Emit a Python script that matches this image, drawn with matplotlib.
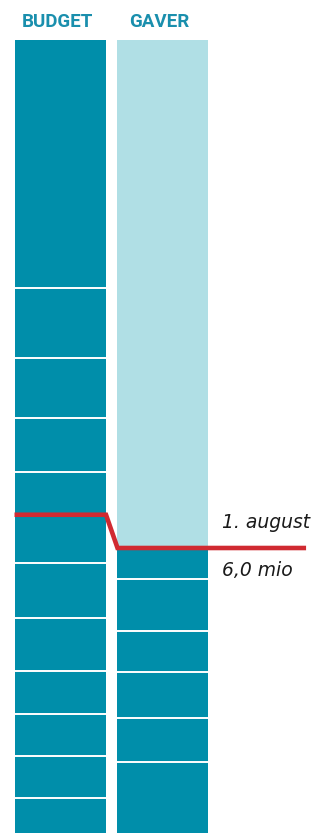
import numpy as np
import matplotlib
matplotlib.use("Agg")
import matplotlib.pyplot as plt

# Data (mio kr), segments stacked from the bottom up
categories = ["BUDGET", "GAVER"]
budget_segments = [0.73, 0.89, 0.88, 0.91, 1.11, 1.17, 1.92, 1.13, 1.25, 1.49, 5.21]
gaver_segments = [1.50, 0.93, 0.96, 0.87, 1.09, 0.65]
budget_1_august = 6.7
marker_label = "1. august"

# Colours
dark = "#008EAA"
light = "#B0DFE5"
red = "#D02A31"

budget_total = sum(budget_segments)
gaver_total = sum(gaver_segments)

fig = plt.figure(figsize=(3.11, 8.33), dpi=100)
ax = fig.add_axes([0, 0, 1, 1])
ax.axis("off")

x = np.arange(len(categories))
w = 0.897

def draw_stack(xpos, segments):
    bottoms = np.concatenate(([0], np.cumsum(segments)[:-1]))
    ax.bar([xpos] * len(segments), segments, bottom=bottoms, width=w,
           color=dark, linewidth=0, zorder=2)
    # white separators between segments
    for b in np.cumsum(segments)[:-1]:
        ax.plot([xpos - w / 2, xpos + w / 2], [b, b], color="white",
                lw=1.4, solid_capstyle="butt", zorder=3)

draw_stack(x[0], budget_segments)
draw_stack(x[1], gaver_segments)

# remaining part of the budget, not yet collected
ax.bar(x[1], budget_total - gaver_total, bottom=gaver_total, width=w,
       color=light, linewidth=0, zorder=2)

# red "1. august" line
line_end = 2.41
ax.plot([x[0] - w / 2, x[0] + w / 2, x[1] - w / 2 + 0.01, line_end],
        [budget_1_august, budget_1_august, gaver_total, gaver_total],
        color=red, lw=3.3, solid_joinstyle="miter", solid_capstyle="butt", zorder=4)

ax.annotate(marker_label, xy=(x[1] + w / 2, gaver_total), xytext=(14, 20),
            textcoords="offset pixels", fontsize=13.5, style="italic",
            color="#1a1a1a", ha="left", va="baseline")
ax.annotate(f"{gaver_total:.1f}".replace(".", ",") + " mio",
            xy=(x[1] + w / 2, gaver_total), xytext=(14, -28),
            textcoords="offset pixels", fontsize=13.5, style="italic",
            color="#1a1a1a", ha="left", va="baseline")

# column headers
for xi, name in zip(x, categories):
    ax.annotate(name, xy=(xi, budget_total), xytext=(-3, 13.5),
                textcoords="offset pixels", fontsize=13.5, fontweight="bold",
                family="Roboto", color="#1A8FAD", ha="center", va="baseline")

px_per_unit = 47.5
ax.set_ylim(0, 833 / px_per_unit)
ax.set_xlim(-60.25 / 102, (311 - 60.25) / 102)

fig.savefig("out.png", dpi=100)
